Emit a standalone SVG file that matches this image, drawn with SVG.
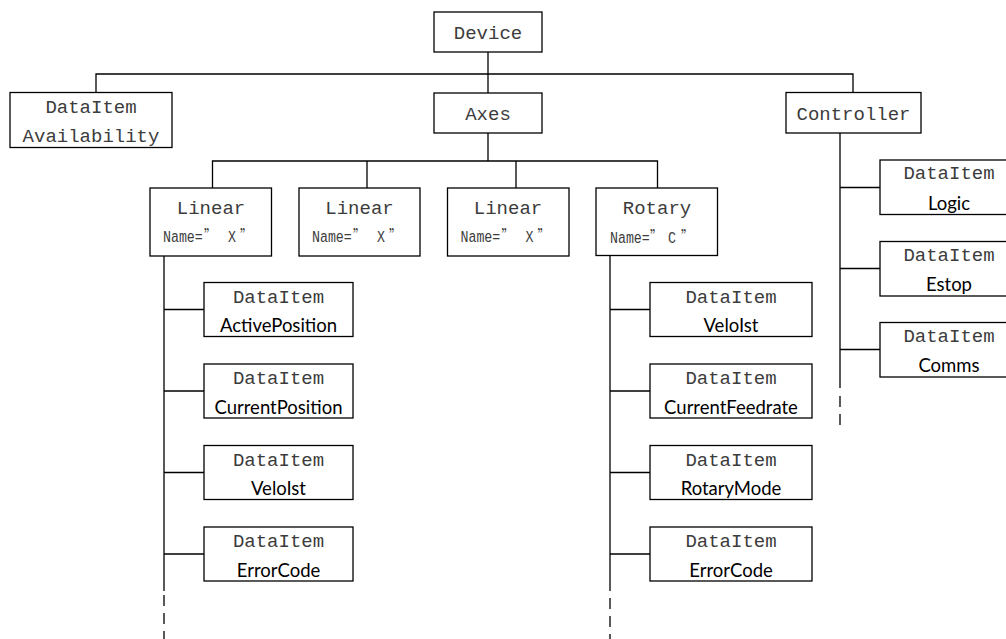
<svg xmlns="http://www.w3.org/2000/svg" width="1006" height="639" viewBox="0 0 1006 639">
<style>
.box{fill:#fff;stroke:#000;stroke-width:1.3}
.ln{fill:none;stroke:#000;stroke-width:1.3}
.dash{fill:none;stroke:#000;stroke-width:1.3;stroke-dasharray:11 7}
.m{font-family:"Liberation Mono",monospace;font-size:19px;fill:#3c3c3c;text-anchor:middle}
.n{font-family:"Liberation Mono",monospace;font-size:17px;fill:#3c3c3c}
.q{font-family:"Noto Sans CJK SC","Liberation Mono",sans-serif;font-size:16px}
.s{font-family:Lato,"Liberation Sans",sans-serif;font-size:18.5px;fill:#000;text-anchor:middle}
</style>
<rect width="1006" height="639" fill="#fff"/>
<g id="connectors">
<path class="ln" d="M488 52V93M96 92.5V74H853V92.5M488 133V161M212.5 188V161H657.5V188M367 161V188M516 161V188"/>
<path class="ln" d="M164 256V591M164 309.5H204M164 391H204M164 472.5H204M164 554H204"/>
<path class="dash" d="M164 595V639"/>
<path class="ln" d="M610 255.5V591M610 309.5H650M610 391H650M610 472.5H650M610 554H650"/>
<path class="dash" d="M610 598V639"/>
<path class="ln" d="M840 133V388M840 187.5H880M840 268.5H880M840 349.5H880"/>
<path class="dash" d="M840 396V432"/>
</g>
<g id="device"><rect class="box" x="434" y="12" width="108" height="40"/><text class="m" x="488" y="39">Device</text></g>
<g id="availability"><rect class="box" x="10" y="92.5" width="162" height="55"/><text class="m" x="91" y="113">DataItem</text><text class="m" x="91" y="142">Availability</text></g>
<g id="axes"><rect class="box" x="434" y="93" width="108" height="40"/><text class="m" x="488" y="120">Axes</text></g>
<g id="controller"><rect class="box" x="786" y="92.5" width="135" height="40.5"/><text class="m" x="853.5" y="120">Controller</text></g>
<g id="linear1"><rect class="box" x="150" y="188" width="121.5" height="68"/><text class="m" x="211" y="214">Linear</text>
<text class="n" transform="translate(163 242) scale(0.78 1)"><tspan x="0">Name=</tspan><tspan class="q" x="52.6">”</tspan><tspan x="83.3">X</tspan><tspan class="q" x="98.7">”</tspan></text></g>
<g id="linear2"><rect class="box" x="299" y="188" width="121" height="68"/><text class="m" x="359.5" y="214">Linear</text>
<text class="n" transform="translate(312 242) scale(0.78 1)"><tspan x="0">Name=</tspan><tspan class="q" x="52.6">”</tspan><tspan x="83.3">X</tspan><tspan class="q" x="98.7">”</tspan></text></g>
<g id="linear3"><rect class="box" x="447.5" y="188" width="121.5" height="68"/><text class="m" x="508" y="214">Linear</text>
<text class="n" transform="translate(460.5 242) scale(0.78 1)"><tspan x="0">Name=</tspan><tspan class="q" x="52.6">”</tspan><tspan x="83.3">X</tspan><tspan class="q" x="98.7">”</tspan></text></g>
<g id="rotary"><rect class="box" x="596" y="188" width="121.5" height="67.5"/><text class="m" x="657" y="214">Rotary</text>
<text class="n" transform="translate(610 242.5) scale(0.78 1)"><tspan x="0">Name=</tspan><tspan class="q" x="51.3">”</tspan><tspan x="74.4">C</tspan><tspan class="q" x="91">”</tspan></text></g>
<g id="lin-activeposition"><rect class="box" x="204" y="282.5" width="149" height="54"/><text class="m" x="278.5" y="302.5">DataItem</text><text class="s" x="278.5" y="332">ActivePosition</text></g>
<g id="lin-currentposition"><rect class="box" x="204" y="364" width="149" height="54"/><text class="m" x="278.5" y="384">DataItem</text><text class="s" x="278.5" y="413.5">CurrentPosition</text></g>
<g id="lin-veloist"><rect class="box" x="204" y="445.5" width="149" height="54"/><text class="m" x="278.5" y="465.5">DataItem</text><text class="s" x="278.5" y="495">VeloIst</text></g>
<g id="lin-errorcode"><rect class="box" x="204" y="527" width="149" height="54"/><text class="m" x="278.5" y="547">DataItem</text><text class="s" x="278.5" y="576.5">ErrorCode</text></g>
<g id="rot-veloist"><rect class="box" x="650" y="282.5" width="162" height="54"/><text class="m" x="731" y="302.5">DataItem</text><text class="s" x="731" y="332">VeloIst</text></g>
<g id="rot-currentfeedrate"><rect class="box" x="650" y="364" width="162" height="54"/><text class="m" x="731" y="384">DataItem</text><text class="s" x="731" y="413.5">CurrentFeedrate</text></g>
<g id="rot-rotarymode"><rect class="box" x="650" y="445.5" width="162" height="54"/><text class="m" x="731" y="465.5">DataItem</text><text class="s" x="731" y="495">RotaryMode</text></g>
<g id="rot-errorcode"><rect class="box" x="650" y="527" width="162" height="54"/><text class="m" x="731" y="547">DataItem</text><text class="s" x="731" y="576.5">ErrorCode</text></g>
<g id="ctrl-logic"><rect class="box" x="880" y="160" width="140" height="54.5"/><text class="m" x="949" y="179">DataItem</text><text class="s" x="949" y="209.5">Logic</text></g>
<g id="ctrl-estop"><rect class="box" x="880" y="241.5" width="140" height="54.5"/><text class="m" x="949" y="260.5">DataItem</text><text class="s" x="949" y="291">Estop</text></g>
<g id="ctrl-comms"><rect class="box" x="880" y="322.5" width="140" height="54.5"/><text class="m" x="949" y="341.5">DataItem</text><text class="s" x="949" y="372">Comms</text></g>
</svg>
